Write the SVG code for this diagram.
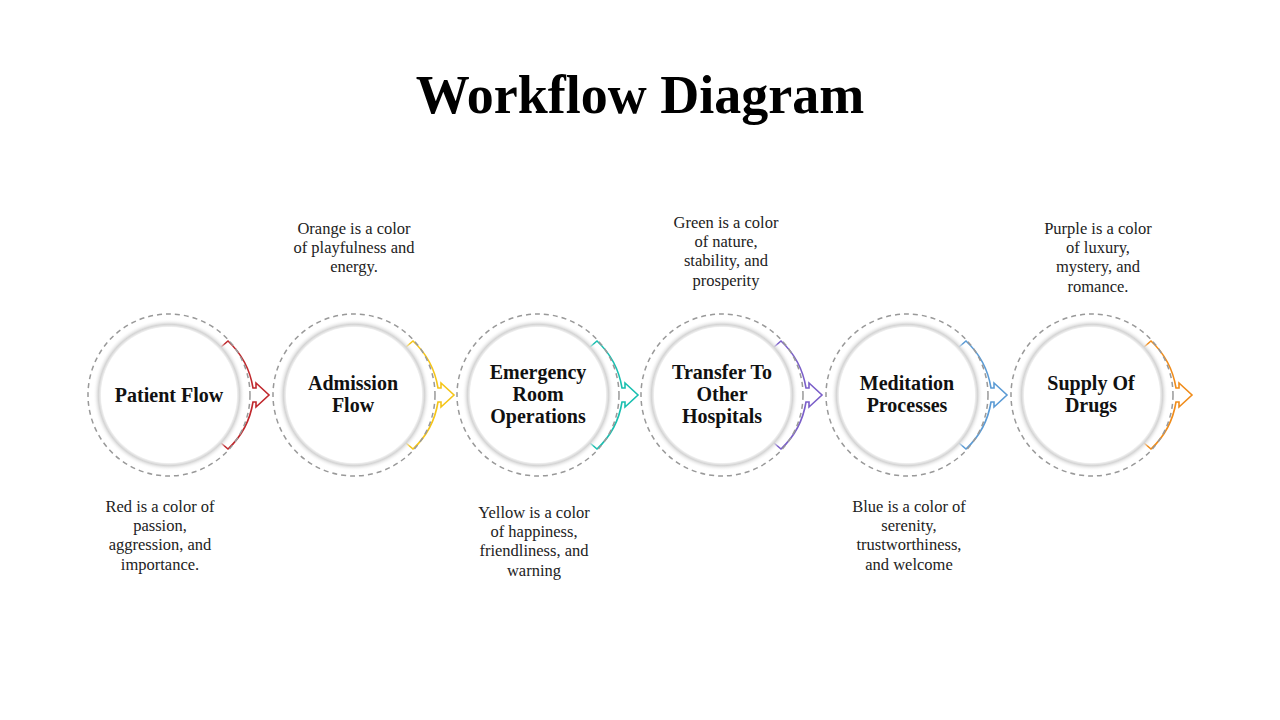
<svg xmlns="http://www.w3.org/2000/svg" width="1280" height="720" viewBox="0 0 1280 720">
<defs>
<radialGradient id="sh" cx="0.5" cy="0.5" r="0.5">
<stop offset="0.88" stop-color="#fff"/>
<stop offset="0.93" stop-color="#d4d4d4"/>
<stop offset="1" stop-color="#fff" stop-opacity="0"/>
</radialGradient>
<g id="node">
<circle r="81" fill="none" stroke="#999" stroke-width="1.5" stroke-dasharray="5,4"/>
<circle r="76" fill="url(#sh)"/>
<circle r="68" fill="#fff"/>
</g>
<path id="arr" d="M52,-48 L59,-54 A82,82 0 0 1 84,-7 L87,-7 L87,-12 L100,0 L87,12 L87,7 L84,7 A82,82 0 0 1 59,54 L52,48" fill="#fff" stroke-width="1.6"/>
</defs>
<style>
.t{font-family:"Liberation Serif","DejaVu Serif",serif;font-weight:bold;font-size:20px;text-anchor:middle;fill:#111}
.d{font-family:"Liberation Serif","DejaVu Serif",serif;font-size:16.5px;text-anchor:middle;fill:#222}
</style>
<rect width="1280" height="720" fill="#fff"/>
<text x="640" y="113" font-family="Liberation Serif,DejaVu Serif,serif" font-weight="bold" font-size="54" text-anchor="middle" fill="#000">Workflow Diagram</text>
<g id="connectors">
<use href="#arr" x="169" y="395" stroke="#c0282d"/>
<use href="#arr" x="354" y="395" stroke="#f5c518"/>
<use href="#arr" x="538" y="395" stroke="#19bfb0"/>
<use href="#arr" x="722" y="395" stroke="#7b5fc9"/>
<use href="#arr" x="907" y="395" stroke="#5b9bd5"/>
<use href="#arr" x="1092" y="395" stroke="#f08c1a"/>
</g>
<g id="n1"><use href="#node" x="169" y="395"/><text class="t" x="169" y="402">Patient Flow</text>
<text class="d" x="160" y="512">Red is a color of</text><text class="d" x="160" y="531">passion,</text><text class="d" x="160" y="550">aggression, and</text><text class="d" x="160" y="570">importance.</text></g>
<g id="n2"><use href="#node" x="354" y="395"/><text class="t" x="353" y="390">Admission</text><text class="t" x="353" y="412">Flow</text>
<text class="d" x="354" y="234">Orange is a color</text><text class="d" x="354" y="253">of playfulness and</text><text class="d" x="354" y="272">energy.</text></g>
<g id="n3"><use href="#node" x="538" y="395"/><text class="t" x="538" y="379">Emergency</text><text class="t" x="538" y="401">Room</text><text class="t" x="538" y="423">Operations</text>
<text class="d" x="534" y="518">Yellow is a color</text><text class="d" x="534" y="537">of happiness,</text><text class="d" x="534" y="556">friendliness, and</text><text class="d" x="534" y="576">warning</text></g>
<g id="n4"><use href="#node" x="722" y="395"/><text class="t" x="722" y="379">Transfer To</text><text class="t" x="722" y="401">Other</text><text class="t" x="722" y="423">Hospitals</text>
<text class="d" x="726" y="228">Green is a color</text><text class="d" x="726" y="247">of nature,</text><text class="d" x="726" y="266">stability, and</text><text class="d" x="726" y="286">prosperity</text></g>
<g id="n5"><use href="#node" x="907" y="395"/><text class="t" x="907" y="390">Meditation</text><text class="t" x="907" y="412">Processes</text>
<text class="d" x="909" y="512">Blue is a color of</text><text class="d" x="909" y="531">serenity,</text><text class="d" x="909" y="550">trustworthiness,</text><text class="d" x="909" y="570">and welcome</text></g>
<g id="n6"><use href="#node" x="1092" y="395"/><text class="t" x="1091" y="390">Supply Of</text><text class="t" x="1091" y="412">Drugs</text>
<text class="d" x="1098" y="234">Purple is a color</text><text class="d" x="1098" y="253">of luxury,</text><text class="d" x="1098" y="272">mystery, and</text><text class="d" x="1098" y="292">romance.</text></g>
</svg>
